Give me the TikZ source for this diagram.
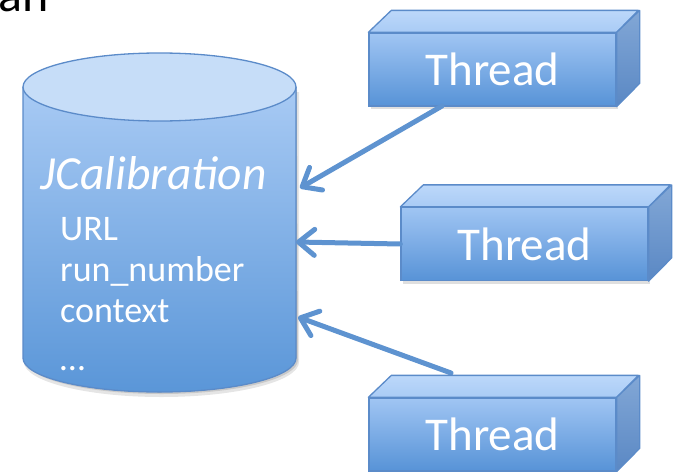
\documentclass[tikz,border=0pt]{standalone}
\usepackage{fontspec}
\setmainfont{Carlito}
\usetikzlibrary{arrows.meta,shadows}
\definecolor{edgecol}{HTML}{5B8BC9}
\definecolor{cyltop}{HTML}{C6DDF8}
\definecolor{bodytop}{HTML}{A8CAF4}
\definecolor{bodybot}{HTML}{5A96D8}
\definecolor{frtop}{HTML}{A0C5F3}
\definecolor{frbot}{HTML}{5793D7}
\definecolor{toplt}{HTML}{BCD8FA}
\definecolor{topdk}{HTML}{A9CBF5}
\definecolor{sidetop}{HTML}{82A7D6}
\definecolor{sidebot}{HTML}{5A88C4}
\definecolor{arrowcol}{HTML}{5E93D0}
\tikzset{
  front/.style={draw=edgecol, line width=1.3pt, top color=frtop, bottom color=frbot,
    minimum width=247pt, minimum height=73pt, inner sep=0pt, text=white,
    font=\fontsize{47}{52}\selectfont,
    drop shadow={opacity=0.25, shadow xshift=2pt, shadow yshift=-3pt}},
  topface/.style={draw=edgecol, line width=1.3pt, top color=toplt, bottom color=topdk, line join=round},
  sideface/.style={draw=edgecol, line width=1.3pt, top color=sidetop, bottom color=sidebot, line join=round},
  link/.style={draw=arrowcol, line width=5pt, line cap=round,
    -{Straight Barb[length=16pt, width=26pt, line cap=round, round]}},
  attr/.style={anchor=base west, inner sep=0pt, text=white, font=\fontsize{36}{42}\selectfont},
}
\newcommand{\threadbox}[2]{%
  \node[front] (#1) at (#2) {Thread};
  \path[topface] (#1.north west) -- ++(23,-22) -- ++(247,0) -- (#1.north east) -- cycle;
  \path[sideface] (#1.north east) -- ++(23,-22) -- ++(0,73) -- (#1.south east) -- cycle;
}
\begin{document}
\begin{tikzpicture}[x=1pt,y=-1pt]
\useasboundingbox (0,0) rectangle (679,471);
% title fragment
\node[anchor=base east, inner sep=0pt, font=\fontsize{50}{56}\selectfont] (title) at (49,12) {an};
% cylinder shadow
\fill[black, opacity=0.10] (24,92) -- (24,362) arc[start angle=180, end angle=0, x radius=137.5, y radius=35] -- (299,92) -- cycle;
\fill[black, opacity=0.12] (25,90) -- (25,360) arc[start angle=180, end angle=0, x radius=136.5, y radius=34] -- (297,90) -- cycle;
% cylinder
\fill[top color=bodytop, bottom color=bodybot] (23,87) -- (23,358) arc[start angle=180, end angle=0, x radius=136.5, y radius=34] -- (296,87) -- cycle;
\draw[edgecol, line width=1.3pt] (23,87) -- (23,358) arc[start angle=180, end angle=0, x radius=136.5, y radius=34] -- (296,87);
\filldraw[fill=cyltop, draw=edgecol, line width=1.3pt] (159.5,87) ellipse[x radius=136.5, y radius=34];
\node[attr, font=\fontsize{47.5}{52}\selectfont\itshape] (jcal) at (40,189) {JCalibration};
\node[attr] (url) at (60,240) {URL};
\node[attr] (run) at (60,281) {run\_number};
\node[attr] (ctx) at (60,322) {context};
\node[attr] (dots) at (60,370) {…};
\coordinate (c1) at (300,188);
\coordinate (c2) at (296,242);
\coordinate (c3) at (298,317);
% anchors of the links on the thread boxes
\coordinate (s1) at (442,106);
\coordinate (s3) at (451,373);
\draw[link] (s3) -- (c3);
% threads
\threadbox{t1}{492.5,69.5}
\threadbox{t2}{524.5,244}
\threadbox{t3}{492.5,434.5}
% links
\draw[link] (s1) -- (c1);
\draw[link] (t2.west) -- (c2);
\end{tikzpicture}
\end{document}
